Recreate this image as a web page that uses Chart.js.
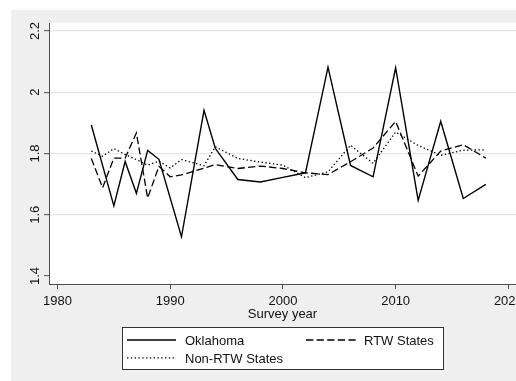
<!DOCTYPE html>
<html>
<head>
<meta charset="utf-8">
<script src="https://cdn.jsdelivr.net/npm/chart.js@4.4.1/dist/chart.umd.min.js"></script>
<style>
  html, body { margin: 0; padding: 0; background: #ffffff; }
  canvas { display: block; }
</style>
</head>
<body>
<canvas id="chart" width="516" height="381"></canvas>
<script>
// Survey years and mean values per group
const years = [1983, 1984, 1985, 1986, 1987, 1988, 1989, 1990, 1991, 1993, 1994, 1996,
               1998, 2000, 2002, 2004, 2006, 2008, 2010, 2012, 2014, 2016, 2018];
const oklahoma = [1.893, null, 1.629, 1.774, 1.670, 1.810, 1.781, null, 1.528, 1.941, 1.817, 1.715,
                  1.707, 1.722, 1.737, 2.082, 1.761, 1.724, 2.080, 1.647, 1.905, 1.653, 1.699];
const rtwStates = [1.784, 1.688, 1.785, 1.785, 1.867, 1.655, 1.758, 1.724, 1.730, 1.752, 1.764, 1.751,
                   1.759, 1.751, 1.737, 1.731, 1.773, 1.818, 1.905, 1.726, 1.808, 1.829, 1.785];
const nonRtwStates = [1.808, 1.791, 1.816, 1.797, 1.780, 1.762, 1.775, 1.753, 1.780, 1.760, 1.822, 1.784,
                      1.772, 1.762, 1.721, 1.740, 1.827, 1.768, 1.870, 1.826, 1.794, 1.811, 1.812];

const xTicks = [1980, 1990, 2000, 2010, 2020];
const yTicks = [1.4, 1.6, 1.8, 2.0, 2.2];
const xTitle = 'Survey year';

const FONT = "'Liberation Sans', Arial, Helvetica, sans-serif";
const AXIS = '#4d4d4d';

const toPoints = vals => years.map((yr, i) => ({ x: yr, y: vals[i] }));

// Backgrounds, rotated y labels, x labels, axis title and the boxed legend
const stataFrame = {
  id: 'stataFrame',
  beforeDraw(chart) {
    const { ctx, chartArea: a, width, height } = chart;
    ctx.save();
    ctx.fillStyle = '#ffffff';
    ctx.fillRect(0, 0, width, height);
    ctx.fillStyle = '#efefef';
    ctx.fillRect(11, 10, width - 11, height - 10);
    ctx.fillStyle = '#ffffff';
    ctx.fillRect(a.left, a.top, a.right - a.left, a.bottom - a.top);
    ctx.restore();
  },
  afterDraw(chart) {
    const { ctx, chartArea: a } = chart;
    const xs = chart.scales.x, ys = chart.scales.y;
    ctx.save();
    ctx.font = '13px ' + FONT;
    ctx.fillStyle = '#111111';
    ctx.textBaseline = 'alphabetic';

    // x tick labels
    ctx.textAlign = 'center';
    xs.ticks.forEach(t => {
      ctx.fillText(String(t.value), xs.getPixelForValue(t.value), a.bottom + 20.7);
    });

    // y tick labels, rotated to read upwards
    ys.ticks.forEach(t => {
      const py = ys.getPixelForValue(t.value);
      ctx.save();
      ctx.translate(a.left - 9.7, py);
      ctx.rotate(-Math.PI / 2);
      ctx.textAlign = 'center';
      ctx.fillText(String(Math.round(t.value * 10) / 10), 0, 0);
      ctx.restore();
    });

    // x axis title
    ctx.textAlign = 'center';
    ctx.fillText(xTitle, (a.left + a.right) / 2, a.bottom + 34.3);

    // legend box
    ctx.fillStyle = '#ffffff';
    ctx.fillRect(122.5, 327.5, 321, 42);
    ctx.strokeStyle = '#333333';
    ctx.lineWidth = 1;
    ctx.setLineDash([]);
    ctx.strokeRect(122.5, 327.5, 321, 42);

    const slots = [
      { x0: 127, x1: 176, tx: 185, base: 344.7 },
      { x0: 306, x1: 356, tx: 364, base: 344.7 },
      { x0: 127, x1: 176, tx: 185, base: 362.5 }
    ];
    chart.data.datasets.forEach((ds, i) => {
      const s = slots[i];
      const ly = s.base - 4.7;
      ctx.beginPath();
      ctx.strokeStyle = ds.borderColor;
      ctx.lineWidth = ds.borderWidth;
      ctx.setLineDash(ds.borderDash || []);
      ctx.moveTo(s.x0, ly);
      ctx.lineTo(s.x1, ly);
      ctx.stroke();
      ctx.setLineDash([]);
      ctx.fillStyle = '#111111';
      ctx.textAlign = 'left';
      ctx.fillText(ds.label, s.tx, s.base);
    });
    ctx.restore();
  }
};

new Chart(document.getElementById('chart'), {
  type: 'line',
  data: {
    datasets: [
      { label: 'Oklahoma', data: toPoints(oklahoma), borderColor: '#000000', borderWidth: 1.4,
        borderDash: [], pointRadius: 0, spanGaps: true, tension: 0, fill: false },
      { label: 'RTW States', data: toPoints(rtwStates), borderColor: '#000000', borderWidth: 1.3,
        borderDash: [7.3, 3.3], pointRadius: 0, spanGaps: true, tension: 0, fill: false },
      { label: 'Non-RTW States', data: toPoints(nonRtwStates), borderColor: '#000000', borderWidth: 1.3,
        borderDash: [1.4, 2.4], pointRadius: 0, spanGaps: true, tension: 0, fill: false }
    ]
  },
  options: {
    responsive: false,
    animation: false,
    events: [],
    layout: { padding: { top: 23, left: 0, right: 0, bottom: 0 }, autoPadding: false },
    plugins: { legend: { display: false }, tooltip: { enabled: false }, title: { display: false } },
    scales: {
      x: {
        type: 'linear',
        position: 'bottom',
        min: 1979.246,
        max: 2020.68,
        afterBuildTicks: s => { s.ticks = xTicks.map(v => ({ value: v })); },
        afterFit: s => { s.height = 97; },
        ticks: { display: false },
        grid: { display: true, drawOnChartArea: false, drawTicks: true, tickLength: 5,
                tickColor: AXIS, tickWidth: 1 },
        border: { display: true, color: AXIS, width: 1 }
      },
      y: {
        type: 'linear',
        position: 'left',
        min: 1.3739,
        max: 2.2261,
        afterBuildTicks: s => { s.ticks = yTicks.map(v => ({ value: v })); },
        afterFit: s => { s.width = 49; },
        ticks: { display: false },
        grid: {
          display: true, drawOnChartArea: true, drawTicks: true, tickLength: 5,
          color: c => (c.tick && Math.abs(c.tick.value - 1.4) < 1e-6) ? 'rgba(0,0,0,0)' : '#e6e6e6',
          lineWidth: 1.3, tickColor: AXIS, tickWidth: 1
        },
        border: { display: true, color: AXIS, width: 1 }
      }
    }
  },
  plugins: [stataFrame]
});
</script>
</body>
</html>
